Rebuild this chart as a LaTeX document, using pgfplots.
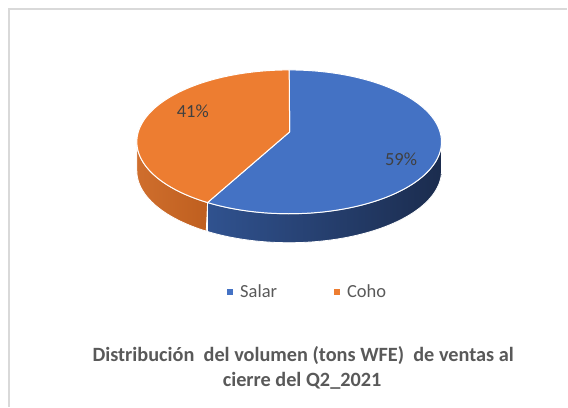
\documentclass[border=0pt]{standalone}
\usepackage{pgfplots}
\pgfplotsset{compat=1.18}
\usepackage{fontspec}
\setmainfont{Carlito}
\definecolor{salar}{HTML}{4472C4}
\definecolor{coho}{HTML}{ED7D31}
\definecolor{salarL}{HTML}{30528F}
\definecolor{salarD}{HTML}{1B2C4E}
\definecolor{cohoL}{HTML}{CF6E2D}
\definecolor{cohoD}{HTML}{BF5F1F}
\definecolor{txt}{HTML}{595959}
\definecolor{lbl}{HTML}{404040}
\definecolor{framec}{HTML}{D9D9D9}
\def\salar{59}
\def\coho{41}
\pgfmathsetmacro{\seam}{90-3.6*\salar}
\pgfmathsetmacro{\seamp}{\seam+360}
\begin{document}
\begin{tikzpicture}
\begin{axis}[hide axis, scale only axis, width=568pt, height=407pt,
  xmin=0, xmax=568, ymin=0, ymax=407, enlargelimits=false, clip=false,
  declare function={cx=289.5; cy=265; ax=152.5; by=72; hh=29;
    th(\t,\A,\B)=\A+(\B-\A)*(1-abs(1-\t));},
  legend columns=2,
  legend style={at={(axis cs:308.5,115)}, anchor=center, draw=none, fill=none,
    font=\fontsize{18.5}{20}\selectfont, text=txt, inner sep=0pt,
    nodes={inner xsep=3.5pt, inner ysep=0pt},
    /tikz/every even column/.append style={column sep=53pt}},
  legend image code/.code={\fill[#1, draw=none] (0pt,-3pt) rectangle (6pt,3pt);
    \path[draw=none, fill=none] (0pt,0pt) -- (10pt,0pt);},
]
\path (axis cs:0,0) rectangle (axis cs:568,407);
\draw[framec, line width=1.3pt] (axis cs:9,0) -- (axis cs:9,398) -- (axis cs:568,398);
% walls
\addplot[forget plot, domain=0:2, samples=201, variable=\t, left color=cohoL, right color=cohoD, draw=white, line width=0.8pt]
  ({cx+ax*cos(th(\t,180,\seamp))}, {cy+by*sin(th(\t,180,\seamp))-hh*(\t>1)}) -- cycle;
\addplot[forget plot, domain=0:2, samples=201, variable=\t, left color=salarL, right color=salarD, draw=white, line width=0.8pt]
  ({cx+ax*cos(th(\t,\seamp,360))}, {cy+by*sin(th(\t,\seamp,360))-hh*(\t>1)}) -- cycle;
% top
\addplot[fill=salar, draw=white, line width=1pt, domain=\seam:90, samples=120, variable=\t]
  ({cx+ax*cos(\t)}, {cy+by*sin(\t)}) -- (axis cs:290,275) -- cycle;
\addlegendentry{Salar}
\addplot[fill=coho, draw=white, line width=1pt, domain=90:\seamp, samples=120, variable=\t]
  ({cx+ax*cos(\t)}, {cy+by*sin(\t)}) -- (axis cs:290,275) -- cycle;
\addlegendentry{Coho}
\node[anchor=base, text=lbl, font=\fontsize{18.5}{20}\selectfont] at (axis cs:401.5,241) {\salar\%};
\node[anchor=base, text=lbl, font=\fontsize{18.5}{20}\selectfont] at (axis cs:193,289) {\coho\%};
\node[anchor=base, text=txt, font=\fontsize{20.3}{24}\bfseries] at (axis cs:303.5,45) {Distribución~ del volumen (tons WFE)~ de ventas al};
\node[anchor=base, text=txt, font=\fontsize{20.3}{24}\bfseries] at (axis cs:302.5,20) {cierre del Q2\_2021};
\end{axis}
\end{tikzpicture}
\end{document}
